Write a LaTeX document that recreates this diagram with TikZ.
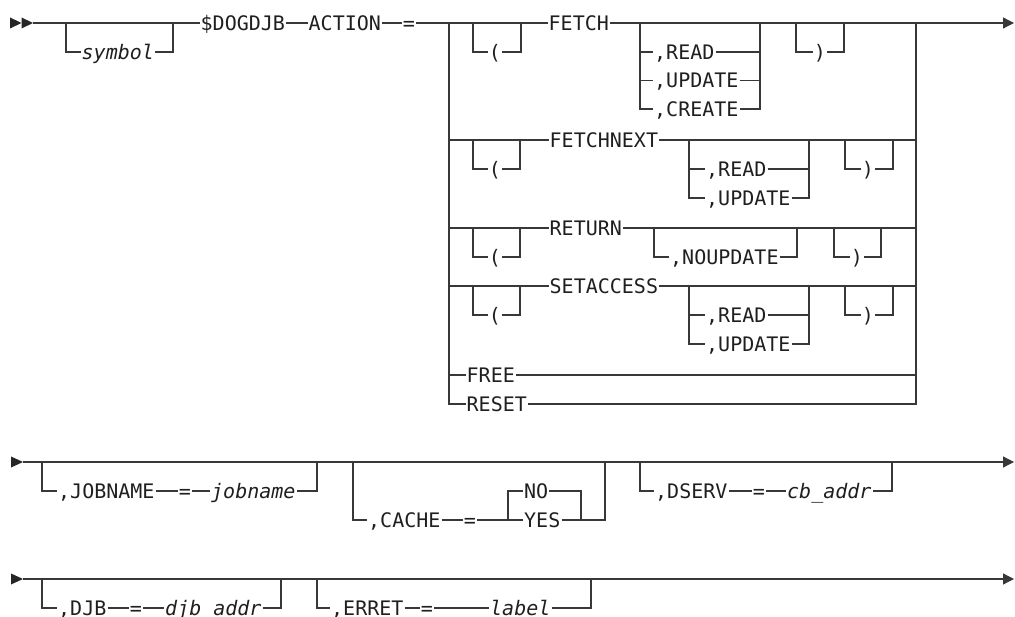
\documentclass[tikz,border=0pt]{standalone}
\usepackage{fontspec}
\newfontfamily\rrfont{DejaVu Sans Mono}[ItalicFont={DejaVu Sans Mono Oblique}]
\usetikzlibrary{arrows.meta}
\begin{document}
\begin{tikzpicture}[x=1pt,y=-1pt,
  rail/.style={line width=1.2pt, draw=black!78},
  endarrow/.style={rail,-{Triangle[length=11pt,width=11pt]}},
  startmark/.style={fill=black!85},
  kw/.style={font=\rrfont\fontsize{20}{24}\selectfont, text=black!88, inner xsep=1pt, inner ysep=0pt, text height=14.6pt, text depth=0pt, anchor=west},
  var/.style={kw, font=\rrfont\itshape\fontsize{20}{24}\selectfont},
  sym/.style={kw, anchor=center}]
\useasboundingbox (0,0) rectangle (1015,617);

% ---------------- row 1 ----------------
\fill[startmark] (10,17.5) -- (21.5,23) -- (10,28.5) -- cycle;
\fill[startmark] (21.5,17.5) -- (33,23) -- (21.5,28.5) -- cycle;
\coordinate (s1) at (33,23);
\coordinate (symL) at (66,23);
\coordinate (symR) at (173,23);
\node[var] (symbol) at (80.5,52) {symbol};
\node[kw] (dog) at (199.5,23) {\$DOGDJB};
\node[kw] (action) at (307.5,23) {ACTION};
\node[sym] (eq1) at (409,23) {=};
\draw[rail] (s1) -- (dog.west);
\draw[rail] (symL) |- (symbol.west);
\draw[rail] (symbol.east) -| (symR);
\draw[rail] (dog.east) -- (action.west);
\draw[rail] (action.east) -- (eq1.west);

% big choice
\coordinate (chL1) at (449,23);   \coordinate (chR1) at (916,23);
\coordinate (chL2) at (449,140);  \coordinate (chR2) at (916,140);
\coordinate (chL3) at (449,228);  \coordinate (chR3) at (916,228);
\coordinate (chL4) at (449,286);  \coordinate (chR4) at (916,286);
\coordinate (chL5) at (449,375);  \coordinate (chR5) at (916,375);
\coordinate (e1) at (1014,23);

% FETCH branch
\node[kw] (fetch) at (547.5,23) {FETCH};
\coordinate (pAL) at (473,23); \coordinate (pAR) at (521,23);
\node[sym] (lpA) at (495,52) {(};
\coordinate (cAL) at (640,23); \coordinate (cAR) at (760,23);
\node[kw] (readA) at (653,52) {,READ};
\node[kw] (updA) at (653,80.5) {,UPDATE};
\node[kw] (creA) at (653,109) {,CREATE};
\coordinate (qAL) at (796,23); \coordinate (qAR) at (844,23);
\node[sym] (rpA) at (820,52) {)};
\draw[rail] (eq1.east) -- (fetch.west);
\draw[rail] (fetch.east) -- (chR1);
\draw[endarrow] (chR1) -- (e1);
\draw[rail] (pAL) |- (lpA.west);
\draw[rail] (lpA.east) -| (pAR);
\draw[rail] (cAL) |- (readA.west);
\draw[rail] (cAL) |- (updA.west);
\draw[rail] (cAL) |- (creA.west);
\draw[rail] (readA.east) -| (cAR);
\draw[rail] (updA.east) -| (cAR);
\draw[rail] (creA.east) -| (cAR);
\draw[rail] (qAL) |- (rpA.west);
\draw[rail] (rpA.east) -| (qAR);

% FETCHNEXT branch
\node[kw] (fnext) at (548.5,140) {FETCHNEXT};
\coordinate (pBL) at (473,140); \coordinate (pBR) at (520,140);
\node[sym] (lpB) at (495,169) {(};
\coordinate (cBL) at (689,140); \coordinate (cBR) at (809,140);
\node[kw] (readB) at (705,169) {,READ};
\node[kw] (updB) at (705,198) {,UPDATE};
\coordinate (qBL) at (845,140); \coordinate (qBR) at (893,140);
\node[sym] (rpB) at (868,169) {)};
\draw[rail] (chL2) -- (fnext.west);
\draw[rail] (fnext.east) -- (chR2);
\draw[rail] (pBL) |- (lpB.west);
\draw[rail] (lpB.east) -| (pBR);
\draw[rail] (cBL) |- (readB.west);
\draw[rail] (cBL) |- (updB.west);
\draw[rail] (readB.east) -| (cBR);
\draw[rail] (updB.east) -| (cBR);
\draw[rail] (qBL) |- (rpB.west);
\draw[rail] (rpB.east) -| (qBR);

% RETURN branch
\node[kw] (ret) at (548.5,228) {RETURN};
\coordinate (pCL) at (473,228); \coordinate (pCR) at (520,228);
\node[sym] (lpC) at (495,257) {(};
\coordinate (oCL) at (654,228); \coordinate (oCR) at (797,228);
\node[kw] (noupd) at (669,257) {,NOUPDATE};
\coordinate (qCL) at (834,228); \coordinate (qCR) at (881,228);
\node[sym] (rpC) at (857,257) {)};
\draw[rail] (chL3) -- (ret.west);
\draw[rail] (ret.east) -- (chR3);
\draw[rail] (pCL) |- (lpC.west);
\draw[rail] (lpC.east) -| (pCR);
\draw[rail] (oCL) |- (noupd.west);
\draw[rail] (noupd.east) -| (oCR);
\draw[rail] (qCL) |- (rpC.west);
\draw[rail] (rpC.east) -| (qCR);

% SETACCESS branch
\node[kw] (setacc) at (548.5,286) {SETACCESS};
\coordinate (pDL) at (473,286); \coordinate (pDR) at (520,286);
\node[sym] (lpD) at (495,315) {(};
\coordinate (cDL) at (689,286); \coordinate (cDR) at (809,286);
\node[kw] (readD) at (705,315) {,READ};
\node[kw] (updD) at (705,344) {,UPDATE};
\coordinate (qDL) at (845,286); \coordinate (qDR) at (893,286);
\node[sym] (rpD) at (868,315) {)};
\draw[rail] (chL4) -- (setacc.west);
\draw[rail] (setacc.east) -- (chR4);
\draw[rail] (pDL) |- (lpD.west);
\draw[rail] (lpD.east) -| (pDR);
\draw[rail] (cDL) |- (readD.west);
\draw[rail] (cDL) |- (updD.west);
\draw[rail] (readD.east) -| (cDR);
\draw[rail] (updD.east) -| (cDR);
\draw[rail] (qDL) |- (rpD.west);
\draw[rail] (rpD.east) -| (qDR);

% FREE / RESET
\node[kw] (free) at (465.5,375) {FREE};
\node[kw] (reset) at (465.5,404) {RESET};
\draw[rail] (chL5) -- (free.west);
\draw[rail] (free.east) -- (chR5);
\draw[rail] (chL1) |- (reset.west);
\draw[rail] (reset.east) -| (chR1);

% ---------------- row 2 ----------------
\fill[startmark] (11,456.5) -- (23,462) -- (11,467.5) -- cycle;
\coordinate (s2) at (23,462);
\coordinate (e2) at (1014,462);
\draw[endarrow] (s2) -- (e2);
\coordinate (jL) at (42,462); \coordinate (jR) at (317,462);
\node[kw] (jobkw) at (57,491) {,JOBNAME};
\node[sym] (eqJ) at (185,491) {=};
\node[var] (jobvar) at (210,491) {jobname};
\draw[rail] (jL) |- (jobkw.west);
\draw[rail] (jobkw.east) -- (eqJ.west);
\draw[rail] (eqJ.east) -- (jobvar.west);
\draw[rail] (jobvar.east) -| (jR);

\coordinate (kL) at (353,462); \coordinate (kR) at (605,462);
\node[kw] (cachekw) at (367,520) {,CACHE};
\node[sym] (eqK) at (470,520) {=};
\coordinate (nyL) at (508,520); \coordinate (nyR) at (581,520);
\node[kw] (no) at (523,491) {NO};
\node[kw] (yes) at (523,520) {YES};
\draw[rail] (kL) |- (cachekw.west);
\draw[rail] (cachekw.east) -- (eqK.west);
\draw[rail] (eqK.east) -- (yes.west);
\draw[rail] (nyL) |- (no.west);
\draw[rail] (no.east) -| (nyR);
\draw[rail] (yes.east) -| (kR);

\coordinate (dL) at (640,462); \coordinate (dR) at (892,462);
\node[kw] (dservkw) at (654,491) {,DSERV};
\node[sym] (eqD) at (759,491) {=};
\node[var] (cbvar) at (786,491) {cb\_addr};
\draw[rail] (dL) |- (dservkw.west);
\draw[rail] (dservkw.east) -- (eqD.west);
\draw[rail] (eqD.east) -- (cbvar.west);
\draw[rail] (cbvar.east) -| (dR);

% ---------------- row 3 ----------------
\fill[startmark] (11,573.5) -- (23,579) -- (11,584.5) -- cycle;
\coordinate (s3) at (23,579);
\coordinate (e3) at (1014,579);
\draw[endarrow] (s3) -- (e3);
\coordinate (bL) at (42,579); \coordinate (bR) at (281,579);
\node[kw] (djbkw) at (57,608) {,DJB};
\node[sym] (eqB) at (136,608) {=};
\node[var] (djbvar) at (164,608) {djb addr};
\draw[rail] (bL) |- (djbkw.west);
\draw[rail] (djbkw.east) -- (eqB.west);
\draw[rail] (eqB.east) -- (djbvar.west);
\draw[rail] (djbvar.east) -| (bR);

\coordinate (rL) at (317,579); \coordinate (rR) at (591,579);
\node[kw] (erretkw) at (330,608) {,ERRET};
\node[sym] (eqR) at (427,608) {=};
\node[var] (labelvar) at (489,608) {label};
\draw[rail] (rL) |- (erretkw.west);
\draw[rail] (erretkw.east) -- (eqR.west);
\draw[rail] (eqR.east) -- (labelvar.west);
\draw[rail] (labelvar.east) -| (rR);
\end{tikzpicture}
\end{document}
